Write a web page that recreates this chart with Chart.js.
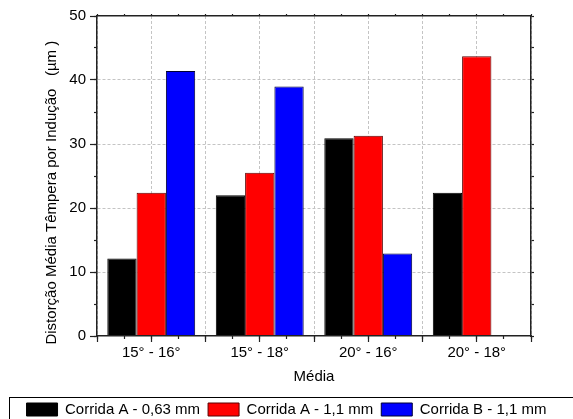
<!DOCTYPE html>
<html>
<head>
<meta charset="utf-8">
<script src="https://cdn.jsdelivr.net/npm/chart.js@4/dist/chart.umd.min.js"></script>
<style>
  html, body { margin: 0; padding: 0; background: #fff; }
  canvas { display: block; }
</style>
</head>
<body>
<canvas id="myBarChart" width="573" height="419"></canvas>
<script>
// categories (x) and the three runs
var categories = ['15° - 16°', '15° - 18°', '20° - 16°', '20° - 18°'];
var corridaA063 = [12.1, 22.0, 30.9, 22.4];
var corridaA11 = [22.4, 25.5, 31.3, 43.7];
var corridaB11 = [41.4, 39.0, 12.9, null];
var seriesNames = ['Corrida A - 0,63 mm', 'Corrida A - 1,1 mm', 'Corrida B - 1,1 mm'];
var yMin = 0, yMax = 50, yStep = 10;

Chart.defaults.font.family = '"Liberation Sans", Arial, sans-serif';
Chart.defaults.font.size = 15;
Chart.defaults.color = '#000';

// box round the legend, cut by the canvas edge like in the figure
var legendFrame = {
    id: 'legendFrame',
    afterDraw: function(chart) {
        var lg = chart.legend;
        var ctx = chart.ctx;
        ctx.save();
        ctx.strokeStyle = '#000';
        ctx.lineWidth = 1;
        ctx.strokeRect(lg.left + 9.5, lg.top + 3.5, chart.width, lg.height + 20);
        ctx.restore();
    }
};

// helpers for the helper axes (only tick marks / grid, no labels)
function zeroHeight(scale) { scale.height = 0; }
function zeroWidth(scale) { scale.width = 0; }
var gridGray = '#c4c4c4';

var ctx = document.getElementById('myBarChart').getContext('2d');
var chart = new Chart(ctx, {
    type: 'bar',
    data: {
        labels: categories,
        datasets: [
            {
                label: seriesNames[0],
                data: corridaA063,
                backgroundColor: '#000000',
                borderColor: '#000000',
                borderWidth: 1,
            },
            {
                label: seriesNames[1],
                data: corridaA11,
                backgroundColor: '#ff0000',
                borderColor: '#5a0000',
                borderWidth: 1,
            },
            {
                label: seriesNames[2],
                data: corridaB11,
                backgroundColor: '#0000ff',
                borderColor: '#000033',
                borderWidth: 1,
            },
        ]
    },
    plugins: [legendFrame],
    options: {
        responsive: false,
        animation: false,
        events: [],
        layout: { padding: { top: 16, left: 0, right: 0, bottom: -8 } },
        datasets: {
            bar: { categoryPercentage: 0.81, barPercentage: 1.0, borderSkipped: 'start' }
        },
        plugins: {
            tooltip: { enabled: false },
            legend: {
                position: 'bottom',
                labels: {
                    boxWidth: 31,
                    boxHeight: 13,
                    padding: 8,
                    color: '#000',
                    font: { size: 15 }
                }
            }
        },
        scales: {
            // category axis: labels, title, bottom border
            x: {
                type: 'category',
                position: 'bottom',
                offset: true,
                weight: 2,
                grid: { display: false, drawTicks: false },
                border: { display: true, color: '#222', width: 1.5, z: 1 },
                ticks: { padding: 8, font: { size: 15 }, color: '#000', maxRotation: 0 },
                title: { display: true, text: 'Média', font: { size: 15 }, color: '#000', padding: { top: 4, bottom: 8 } },
                afterFit: function(scale) { scale.height = 58; }
            },
            // dashed vertical grid every half category + long bottom ticks
            xg: {
                type: 'linear',
                position: 'bottom',
                min: -0.5, max: 3.5,
                offset: false,
                weight: 0,
                ticks: { display: false, stepSize: 0.5 },
                grid: {
                    offset: false,
                    color: gridGray,
                    lineWidth: 1,
                    tickLength: 6,
                    tickColor: '#222',
                    tickWidth: 1.2
                },
                border: { display: false, dash: [3, 2] },
                afterFit: zeroHeight
            },
            // short bottom ticks every quarter category
            xm: {
                type: 'linear',
                position: 'bottom',
                min: -0.5, max: 3.5,
                offset: false,
                weight: 1,
                ticks: { display: false, stepSize: 0.25 },
                grid: { offset: false, drawOnChartArea: false, tickLength: 3, tickColor: '#222', tickWidth: 1.2 },
                border: { display: false },
                afterFit: zeroHeight
            },
            // top frame with small ticks
            xt: {
                type: 'linear',
                position: 'top',
                min: -0.5, max: 3.5,
                offset: false,
                ticks: { display: false, stepSize: 0.25 },
                grid: { offset: false, drawOnChartArea: false, tickLength: 2, tickColor: '#222', tickWidth: 1.2 },
                border: { display: true, color: '#222', width: 1.5, z: 1 },
                afterFit: zeroHeight
            },
            // value axis with labels and horizontal dashed grid
            y: {
                type: 'linear',
                position: 'left',
                min: yMin, max: yMax,
                weight: 1,
                ticks: { stepSize: yStep, padding: 4, font: { size: 15 }, color: '#000' },
                grid: {
                    color: function(c) { return (c.tick.value === yMin || c.tick.value === yMax) ? 'rgba(0,0,0,0)' : gridGray; },
                    lineWidth: 1,
                    tickLength: 7,
                    tickColor: '#222',
                    tickWidth: 1.2
                },
                border: { display: true, color: '#222', width: 1.5, dash: [3, 2], z: 1 },
                title: {
                    display: true,
                    // trailing spaces push the centred text a bit lower, as in the figure
                    text: 'Distorção Média Têmpera por Indução   (µm )\u00a0\u00a0\u00a0\u00a0\u00a0\u00a0\u00a0\u00a0',
                    font: { size: 15 },
                    color: '#000',
                    padding: { top: 43, bottom: 0 }
                },
                afterFit: function(scale) { scale.width = 97; }
            },
            // minor left ticks
            ym: {
                type: 'linear',
                position: 'left',
                min: yMin, max: yMax,
                weight: 0,
                ticks: { display: false, stepSize: yStep / 2 },
                grid: { drawOnChartArea: false, tickLength: 3, tickColor: '#222', tickWidth: 1.2 },
                border: { display: false },
                afterFit: zeroWidth
            },
            // right frame with small ticks
            yr: {
                type: 'linear',
                position: 'right',
                min: yMin, max: yMax,
                ticks: { display: false, stepSize: yStep / 2 },
                grid: { drawOnChartArea: false, tickLength: 3, tickColor: '#222', tickWidth: 1.2 },
                border: { display: true, color: '#222', width: 1.5, z: 1 },
                afterFit: function(scale) { scale.width = 42; }
            }
        }
    }
});
</script>
</body>
</html>
